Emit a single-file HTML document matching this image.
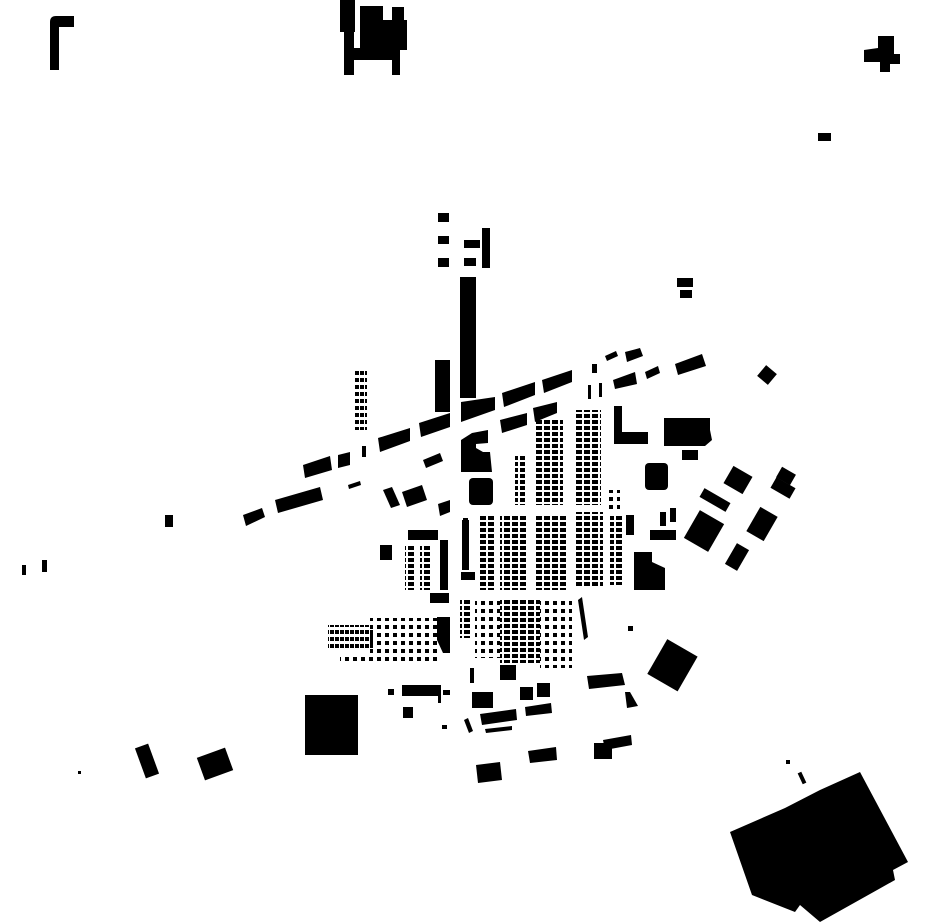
<!DOCTYPE html>
<html><head><meta charset="utf-8"><style>
html,body{margin:0;padding:0;background:#fff;}
svg{display:block;}
</style></head><body>
<svg width="930" height="924" viewBox="0 0 930 924" xmlns="http://www.w3.org/2000/svg">
<defs>
<pattern id="p1" width="8" height="6" patternUnits="userSpaceOnUse"><rect x="0" y="0" width="6" height="4" fill="#000"/></pattern>
<pattern id="p2" width="8" height="8" patternUnits="userSpaceOnUse"><rect x="1" y="1" width="4" height="4" fill="#000"/></pattern>
<pattern id="p3" width="5" height="7" patternUnits="userSpaceOnUse"><rect x="0" y="0" width="4" height="4" fill="#000"/></pattern>
</defs>
<g fill="#000">
<!-- top left L -->
<path d="M50 70 L50 22 Q50 16 56 16 L74 16 L74 27 L59 27 L59 70 Z"/>
<!-- top middle cluster -->
<rect x="340" y="0" width="15" height="32"/>
<rect x="344" y="30" width="10" height="45"/>
<rect x="360" y="6" width="23" height="20"/>
<rect x="392" y="7" width="12" height="15"/>
<rect x="360" y="20" width="47" height="30"/>
<rect x="353" y="48" width="47" height="12"/>
<rect x="392" y="58" width="8" height="17"/>
<!-- top right cross -->
<path d="M878 36 L894 36 L894 54 L900 54 L900 64 L890 64 L890 72 L880 72 L880 62 L864 62 L864 50 L878 48 Z"/>
<rect x="818" y="133" width="13" height="8"/>
<!-- upper column -->
<rect x="438" y="213" width="11" height="9"/>
<rect x="438" y="236" width="11" height="8"/>
<rect x="438" y="258" width="11" height="9"/>
<rect x="482" y="228" width="8" height="40"/>
<rect x="464" y="240" width="16" height="8"/>
<rect x="464" y="258" width="12" height="8"/>
<rect x="677" y="278" width="16" height="9"/>
<rect x="680" y="290" width="12" height="8"/>
<!-- tall bars -->
<rect x="460" y="277" width="16" height="121"/>
<rect x="435" y="360" width="15" height="52"/>
<rect x="355" y="370" width="12" height="60" fill="url(#p3)"/>
<!-- diagonal band upper -->
<polygon points="303,465 330,456 332,470 305,478"/>
<polygon points="338,455 350,452 350,465 338,468"/>
<rect x="362" y="446" width="4" height="11"/>
<polygon points="378,438 410,428 410,441 380,452"/>
<polygon points="419,423 450,413 450,427 421,437"/>
<polygon points="461,402 495,397 495,410 461,422"/>
<polygon points="502,393 535,382 535,395 504,407"/>
<polygon points="542,380 572,370 572,382 544,393"/>
<rect x="588" y="385" width="3" height="14"/>
<rect x="599" y="383" width="3" height="14"/>
<rect x="592" y="364" width="5" height="9"/>
<polygon points="605,356 616,351 618,356 607,361"/>
<polygon points="625,352 640,348 643,356 627,362"/>
<polygon points="613,380 635,372 637,384 615,389"/>
<polygon points="645,372 658,366 660,373 647,379"/>
<polygon points="675,364 702,354 706,366 678,375"/>
<!-- diagonal band lower -->
<polygon points="500,420 527,413 527,425 502,433"/>
<polygon points="533,408 557,402 557,413 535,422"/>
<polygon points="423,460 440,453 443,461 426,468"/>
<polygon points="348,485 360,481 361,485 349,489"/>
<polygon points="383,490 392,487 400,505 391,508"/>
<polygon points="402,492 422,485 427,500 407,507"/>
<polygon points="438,504 450,500 450,512 440,516"/>
<polygon points="275,500 320,487 323,500 278,513"/>
<polygon points="243,515 262,508 265,517 246,526"/>
<!-- ring of blocks -->
<path d="M461 440 L472 433 L488 430 L488 443 L476 444 L476 448 L483 452 L490 452 L492 472 L461 472 Z"/>
<rect x="469" y="478" width="24" height="27" rx="4"/>
<rect x="463" y="518" width="5" height="12"/>
<path d="M614 406 L622 406 L622 432 L648 432 L648 444 L614 444 Z"/>
<path d="M664 418 L710 418 L710 430 L712 440 L705 446 L664 446 Z"/>
<rect x="682" y="450" width="16" height="10"/>
<rect x="645" y="463" width="23" height="27" rx="4"/>
<!-- grid pattern columns -->
<rect x="515" y="455" width="10" height="50" fill="url(#p1)"/>
<rect x="535" y="420" width="28" height="85" fill="url(#p1)"/>
<rect x="575" y="410" width="26" height="95" fill="url(#p1)"/>
<rect x="608" y="490" width="12" height="20" fill="url(#p2)"/>
<rect x="478" y="515" width="18" height="75" fill="url(#p1)"/>
<rect x="500" y="515" width="28" height="75" fill="url(#p1)"/>
<rect x="535" y="515" width="32" height="75" fill="url(#p1)"/>
<rect x="575" y="512" width="28" height="75" fill="url(#p1)"/>
<rect x="610" y="515" width="14" height="70" fill="url(#p1)"/>
<rect x="462" y="520" width="7" height="50"/>
<rect x="626" y="515" width="8" height="20"/>
<rect x="461" y="572" width="14" height="8"/>
<!-- south grid -->
<rect x="460" y="598" width="10" height="40" fill="url(#p1)"/>
<rect x="475" y="598" width="25" height="60" fill="url(#p2)"/>
<rect x="500" y="598" width="40" height="65" fill="url(#p1)"/>
<rect x="540" y="598" width="32" height="70" fill="url(#p2)"/>
<polygon points="578,600 582,597 588,637 584,640"/>
<rect x="470" y="668" width="4" height="15"/>
<rect x="500" y="665" width="16" height="15"/>
<rect x="370" y="618" width="67" height="44" fill="url(#p2)"/>
<rect x="328" y="625" width="45" height="25" fill="url(#p3)"/>
<rect x="340" y="655" width="80" height="10" fill="url(#p2)"/>
<rect x="430" y="593" width="19" height="10"/>
<polygon points="437,617 450,617 450,653 443,653 437,640"/>
<!-- west cluster -->
<rect x="408" y="530" width="30" height="10"/>
<rect x="405" y="545" width="10" height="45" fill="url(#p1)"/>
<rect x="420" y="545" width="12" height="45" fill="url(#p1)"/>
<rect x="440" y="540" width="8" height="50"/>
<rect x="380" y="545" width="12" height="15"/>
<rect x="165" y="515" width="8" height="12"/>
<rect x="22" y="565" width="4" height="10"/>
<rect x="42" y="560" width="5" height="12"/>
<!-- east buildings -->
<rect x="760" y="368" width="14" height="14" transform="rotate(40 767 375)"/>
<rect x="690" y="515" width="28" height="32" transform="rotate(30 704 531)"/>
<rect x="700" y="495" width="30" height="10" transform="rotate(30 715 500)"/>
<rect x="727" y="470" width="22" height="20" transform="rotate(30 738 480)"/>
<rect x="778" y="470" width="16" height="12" transform="rotate(30 786 476)"/>
<rect x="772" y="482" width="22" height="12" transform="rotate(30 783 488)"/>
<rect x="752" y="510" width="20" height="28" transform="rotate(30 762 524)"/>
<rect x="730" y="545" width="14" height="24" transform="rotate(30 737 557)"/>
<path d="M634 552 L652 552 L652 562 L665 568 L665 590 L634 590 Z"/>
<rect x="660" y="512" width="6" height="14"/>
<rect x="670" y="508" width="6" height="14"/>
<rect x="650" y="530" width="26" height="10"/>
<rect x="628" y="626" width="5" height="5"/>
<rect x="655" y="645" width="35" height="40" transform="rotate(30 672 665)"/>
<!-- south -->
<rect x="305" y="695" width="53" height="60"/>
<rect x="402" y="685" width="36" height="11"/>
<rect x="438" y="685" width="3" height="18"/>
<rect x="443" y="690" width="7" height="5"/>
<rect x="388" y="689" width="6" height="6"/>
<rect x="403" y="707" width="10" height="11"/>
<rect x="472" y="692" width="21" height="16"/>
<rect x="520" y="687" width="13" height="13"/>
<rect x="537" y="683" width="13" height="14"/>
<polygon points="525,707 551,703 552,713 526,716"/>
<polygon points="480,714 516,709 517,720 482,725"/>
<polygon points="485,729 512,726 512,730 486,733"/>
<polygon points="464,720 468,718 473,731 469,733"/>
<rect x="442" y="725" width="5" height="4"/>
<polygon points="587,676 622,673 625,685 589,689"/>
<polygon points="625,692 630,692 638,706 627,708"/>
<polygon points="476,765 500,762 502,780 478,783"/>
<polygon points="528,751 556,747 557,760 530,763"/>
<rect x="594" y="743" width="18" height="16"/>
<polygon points="603,740 631,735 632,745 605,750"/>
<rect x="200" y="752" width="30" height="24" transform="rotate(-20 215 764)"/>
<rect x="140" y="745" width="14" height="32" transform="rotate(-20 147 761)"/>
<rect x="78" y="771" width="3" height="3"/>
<!-- big bottom right -->
<path d="M730 832 L785 808 L820 790 L860 772 L908 862 L893 870 L895 880 L820 922 L800 905 L795 912 L752 895 Z"/>
<rect x="786" y="760" width="4" height="4"/>
<rect x="800" y="772" width="4" height="12" transform="rotate(-25 802 778)"/>
</g>
</svg>
</body></html>
